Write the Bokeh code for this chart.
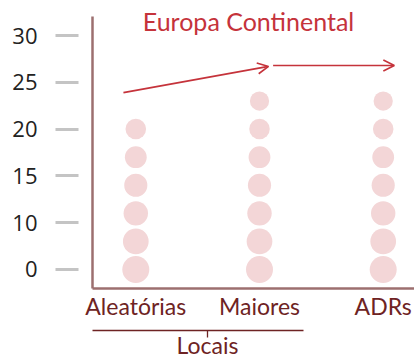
from bokeh.plotting import figure
from bokeh.models import (ColumnDataSource, FixedTicker, Label, Arrow, OpenHead, Range1d,
                          LinearAxis)
from bokeh.embed import file_html
from bokeh.resources import INLINE

# ---- data ----
categories = ["Aleatórias", "Maiores", "ADRs"]
cat_pos = [1, 2, 3]
aleatorias_y = [5, 8, 11, 14, 17, 20]
maiores_y = [5, 8, 11, 14, 17, 20, 23]
adrs_y = [5, 8, 11, 14, 17, 20, 23]
y_ticks = [5, 10, 15, 20, 25, 30]
y_tick_labels = ["0", "10", "15", "20", "25", "30"]
title_text = "Europa Continental"
group_label = "Locais"
group_members = [1, 2]

CAT_COLOR = "#6e2323"
RED = "#c5333b"
PINK = "#f3d6d7"
AXIS = "#9c6f6f"

Y_BOTTOM = 2.97
Y_TOP_AXIS = 32.03

p = figure(width=414, height=361, output_backend="svg", toolbar_location=None,
           x_range=Range1d(0.65, 3.253), y_range=Range1d(Y_BOTTOM, 33.74),
           min_border_left=92, min_border_right=0, min_border_top=0, min_border_bottom=0)
p.outline_line_color = None
p.grid.grid_line_color = None
p.background_fill_color = "white"
p.border_fill_color = "white"

# circles
xs, ys, sizes = [], [], []
for xpos, vals in zip(cat_pos, [aleatorias_y, maiores_y, adrs_y]):
    for v in vals:
        xs.append(xpos)
        ys.append(v)
        sizes.append(27 - (v - 5) * 0.43)
src = ColumnDataSource(dict(x=xs, y=ys, s=sizes))
p.scatter("x", "y", size="s", source=src, fill_color=PINK, line_color=None)

# y axis
ya = p.yaxis[0]
ya.ticker = FixedTicker(ticks=y_ticks)
ya.major_label_overrides = {t: l for t, l in zip(y_ticks, y_tick_labels)}
ya.bounds = (Y_BOTTOM, Y_TOP_AXIS)
ya.axis_line_color = AXIS
ya.axis_line_width = 2.5
ya.major_tick_line_color = "#c4c4c4"
ya.major_tick_line_width = 3
ya.major_tick_in = -14
ya.major_tick_out = 37
ya.minor_tick_line_color = None
ya.major_label_standoff = 18
ya.major_label_text_font = "Open Sans"
ya.major_label_text_font_size = "22px"
ya.major_label_text_color = "#222222"

# x axis (categories)
xa = p.xaxis[0]
xa.ticker = FixedTicker(ticks=cat_pos)
xa.major_label_overrides = {c: l for c, l in zip(cat_pos, categories)}
xa.axis_line_color = AXIS
xa.axis_line_width = 2.5
xa.major_tick_line_color = None
xa.major_tick_in = 0
xa.major_tick_out = 0
xa.minor_tick_line_color = None
xa.major_label_standoff = 3
xa.major_label_text_font = "Lato"
xa.major_label_text_font_size = "23px"
xa.major_label_text_color = CAT_COLOR
xa.axis_label = " "
xa.axis_label_standoff = 0
xa.axis_label_text_font_size = "4px"

# second x axis: group bracket "Locais"
g_center = sum(group_members) / len(group_members) + 0.08
ga = LinearAxis(ticker=FixedTicker(ticks=[g_center]),
                major_label_overrides={g_center: group_label},
                bounds=(min(group_members) - 0.415, max(group_members) + 0.356))
ga.axis_line_color = CAT_COLOR
ga.axis_line_width = 1.3
ga.major_tick_line_color = CAT_COLOR
ga.major_tick_line_width = 1.3
ga.major_tick_in = 0
ga.major_tick_out = 7
ga.minor_tick_line_color = None
ga.major_label_standoff = -7
ga.major_label_text_font = "Lato"
ga.major_label_text_font_size = "23px"
ga.major_label_text_color = CAT_COLOR
p.add_layout(ga, "below")

# title text
p.add_layout(Label(x=1.911, y=31.5, text=title_text, text_align="center",
                   text_baseline="alphabetic",
                   text_font="Lato", text_font_size="25px", text_color=RED))

# arrows
p.add_layout(Arrow(x_start=1 - 0.10, y_start=23.9, x_end=2 + 0.073, y_end=26.7,
                   line_color=RED, line_width=1.6,
                   end=OpenHead(size=11, line_color=RED, line_width=1.6)))
p.add_layout(Arrow(x_start=2 + 0.11, y_start=26.8, x_end=3 + 0.09, y_end=26.8,
                   line_color=RED, line_width=1.6,
                   end=OpenHead(size=11, line_color=RED, line_width=1.6)))

open("out.html", "w").write(file_html(p, INLINE))
